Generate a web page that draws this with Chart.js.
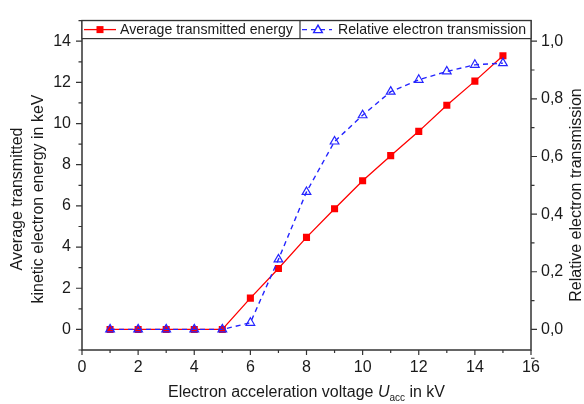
<!DOCTYPE html>
<html lang="en">
<head>
    <meta charset="UTF-8">
    <title>Electron transmission</title>
    <script src="https://cdn.jsdelivr.net/npm/chart.js"></script>
    <style>
        body { margin: 0; background: #fff; }
        #wrap { width: 584px; height: 404px; }
    </style>
</head>
<body>
    <div id="wrap"><canvas id="energyChart" width="584" height="404"></canvas></div>

    <script>
        // Measured values
        const voltages = [1, 2, 3, 4, 5, 6, 7, 8, 9, 10, 11, 12, 13, 14, 15];
        const avgEnergy = [0, 0, 0, 0, 0, 1.52, 2.96, 4.47, 5.86, 7.22, 8.44, 9.62, 10.89, 12.06, 13.29];
        const transmission = [0, 0, 0, 0, 0, 0.023, 0.243, 0.477, 0.652, 0.743, 0.825, 0.866, 0.895, 0.918, 0.924];

        // Tick labels
        const voltageTicks = [0, 2, 4, 6, 8, 10, 12, 14, 16];
        const energyTicks = [0, 2, 4, 6, 8, 10, 12, 14];
        const fractionTicks = [0, 0.2, 0.4, 0.6, 0.8, 1.0];

        const legendLabels = ['Average transmitted energy', 'Relative electron transmission'];

        const RED = '#ff0000';
        const BLUE = '#2424ff';
        const AXIS = '#333333';
        const TEXT = '#1a1a1a';
        const FONT = '"Liberation Sans", Arial, sans-serif';

        // left axis runs -1..15, right axis is the same range divided by 14
        const E_MIN = -1, E_MAX = 15;

        function commaLabel(v) {
            return v.toFixed(1).replace('.', ',');
        }

        // Frame, tick marks, legend box and axis titles
        const decorations = {
            id: 'decorations',
            afterDraw(chart) {
                const ctx = chart.ctx;
                const a = chart.chartArea;
                const x = chart.scales.x, yL = chart.scales.y, yR = chart.scales.y2;

                ctx.save();
                ctx.strokeStyle = AXIS;
                ctx.lineWidth = 1.5;
                ctx.strokeRect(a.left, a.top, a.right - a.left, a.bottom - a.top);

                ctx.lineWidth = 1.2;
                ctx.beginPath();
                for (let v = 0; v <= 16; v++) {
                    const px = x.getPixelForValue(v);
                    const len = v % 2 === 0 ? 5 : 3;
                    ctx.moveTo(px, a.bottom);
                    ctx.lineTo(px, a.bottom + len);
                }
                for (let v = E_MIN; v <= E_MAX; v++) {
                    const py = yL.getPixelForValue(v);
                    const len = v % 2 === 0 ? 6 : 3.5;
                    ctx.moveTo(a.left, py);
                    ctx.lineTo(a.left - len, py);
                }
                for (let i = -1; i <= 10; i++) {
                    const py = yR.getPixelForValue(i / 10);
                    const len = i % 2 === 0 ? 6 : 3.5;
                    ctx.moveTo(a.right, py);
                    ctx.lineTo(a.right + len, py);
                }
                ctx.stroke();

                // legend strip along the top of the frame
                const lgTop = a.top, lgBot = a.top + 18, split = 300;
                ctx.fillStyle = '#fff';
                ctx.fillRect(a.left, lgTop, a.right - a.left, lgBot - lgTop);
                ctx.strokeStyle = AXIS;
                ctx.lineWidth = 1.2;
                ctx.strokeRect(a.left, lgTop, a.right - a.left, lgBot - lgTop);
                ctx.beginPath();
                ctx.moveTo(split, lgTop);
                ctx.lineTo(split, lgBot);
                ctx.stroke();

                const cy = (lgTop + lgBot) / 2;
                ctx.strokeStyle = RED;
                ctx.lineWidth = 1.3;
                ctx.beginPath();
                ctx.moveTo(84, cy);
                ctx.lineTo(116, cy);
                ctx.stroke();
                ctx.fillStyle = RED;
                ctx.fillRect(100 - 3.5, cy - 3.5, 7, 7);

                ctx.strokeStyle = BLUE;
                ctx.lineWidth = 1.4;
                ctx.setLineDash([5, 4]);
                ctx.beginPath();
                ctx.moveTo(302, cy);
                ctx.lineTo(332, cy);
                ctx.stroke();
                ctx.setLineDash([]);
                ctx.fillStyle = '#fff';
                Chart.helpers.drawPoint(ctx, { pointStyle: 'triangle', radius: 5, borderWidth: 1.2, rotation: 0 }, 318, cy + 0.5);

                ctx.fillStyle = TEXT;
                ctx.font = '14.1px ' + FONT;
                ctx.textBaseline = 'middle';
                ctx.textAlign = 'left';
                ctx.fillText(legendLabels[0], 120, cy + 1);
                ctx.fillText(legendLabels[1], 338, cy + 1);

                // axis titles
                ctx.font = '16px ' + FONT;
                ctx.textAlign = 'center';
                ctx.save();
                ctx.translate(18, 199);
                ctx.rotate(-Math.PI / 2);
                ctx.fillText('Average transmitted', 0, 0);
                ctx.fillText('kinetic electron energy in keV', 0, 20.5);
                ctx.restore();

                ctx.save();
                ctx.translate(577, 195);
                ctx.rotate(-Math.PI / 2);
                ctx.fillText('Relative electron transmission', 0, 0);
                ctx.restore();

                // x title with italic U and subscript "acc"
                const parts = [
                    { t: 'Electron acceleration voltage ', f: '16px ' + FONT, dy: 0 },
                    { t: 'U', f: 'italic 16px ' + FONT, dy: 0 },
                    { t: 'acc', f: '10px ' + FONT, dy: 5 },
                    { t: ' in kV', f: '16px ' + FONT, dy: 0 }
                ];
                let total = 0;
                parts.forEach(p => { ctx.font = p.f; p.w = ctx.measureText(p.t).width; total += p.w; });
                let px = (a.left + a.right) / 2 - total / 2;
                ctx.textAlign = 'left';
                parts.forEach(p => {
                    ctx.font = p.f;
                    ctx.fillText(p.t, px, 393 + p.dy);
                    px += p.w;
                });
                ctx.restore();
            }
        };

        const ctx = document.getElementById('energyChart').getContext('2d');
        new Chart(ctx, {
            type: 'line',
            data: {
                labels: voltages,
                datasets: [
                    {
                        label: legendLabels[1],
                        data: voltages.map((v, i) => ({ x: v, y: transmission[i] })),
                        yAxisID: 'y2',
                        borderColor: BLUE,
                        borderWidth: 1.4,
                        borderDash: [5, 4],
                        pointStyle: 'triangle',
                        pointRadius: 5,
                        pointBorderWidth: 1.2,
                        pointBorderColor: BLUE,
                        pointBackgroundColor: 'rgba(255,255,255,0)',
                        tension: 0,
                        order: 0
                    },
                    {
                        label: legendLabels[0],
                        data: voltages.map((v, i) => ({ x: v, y: avgEnergy[i] })),
                        yAxisID: 'y',
                        borderColor: RED,
                        borderWidth: 1.3,
                        pointStyle: 'rect',
                        pointRadius: 5,
                        pointBorderWidth: 0,
                        pointBackgroundColor: RED,
                        tension: 0,
                        order: 1
                    }
                ]
            },
            options: {
                responsive: false,
                animation: false,
                layout: { padding: { top: 12, left: 0, right: 0, bottom: 0 } },
                plugins: { legend: { display: false }, tooltip: { enabled: false } },
                scales: {
                    x: {
                        type: 'linear',
                        min: 0, max: 16,
                        grid: { display: false, drawTicks: false },
                        border: { display: false },
                        afterBuildTicks: s => { s.ticks = voltageTicks.map(v => ({ value: v })); },
                        afterFit: s => { s.height = 54; },
                        ticks: { color: TEXT, font: { family: FONT, size: 16 }, padding: 8, maxRotation: 0 }
                    },
                    y: {
                        position: 'left',
                        min: E_MIN, max: E_MAX,
                        grid: { display: false, drawTicks: false },
                        border: { display: false },
                        afterBuildTicks: s => { s.ticks = energyTicks.map(v => ({ value: v })); },
                        afterFit: s => { s.width = 82; },
                        ticks: { color: TEXT, font: { family: FONT, size: 16 }, padding: 11 }
                    },
                    y2: {
                        position: 'right',
                        min: E_MIN / 14, max: E_MAX / 14,
                        grid: { display: false, drawTicks: false },
                        border: { display: false },
                        afterBuildTicks: s => { s.ticks = fractionTicks.map(v => ({ value: v })); },
                        afterFit: s => { s.width = 53; },
                        ticks: { color: TEXT, font: { family: FONT, size: 16 }, padding: 10, callback: v => commaLabel(v) }
                    }
                }
            },
            plugins: [decorations]
        });
    </script>
</body>
</html>
